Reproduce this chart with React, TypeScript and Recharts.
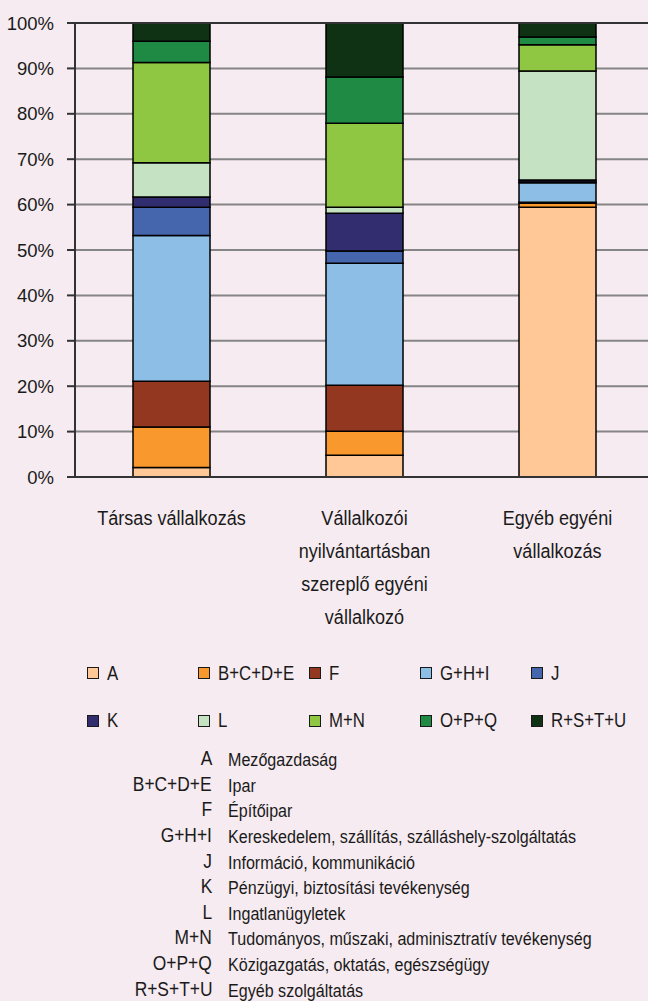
import { Bar, BarChart, CartesianGrid, ReferenceLine, XAxis, YAxis } from "recharts";

const FONT = "'Liberation Sans', Arial, sans-serif";
const BG = "#f6ebf0";

// kategóriák (x tengely), sortörésekkel
const categories = ["Társas vállalkozás", "Vállalkozói nyilvántartásban szereplő egyéni vállalkozó", "Egyéb egyéni vállalkozás"];
const categoryLines = [
  ["Társas vállalkozás"],
  ["Vállalkozói", "nyilvántartásban", "szereplő egyéni", "vállalkozó"],
  ["Egyéb egyéni", "vállalkozás"],
];

// ágazatok
const codes = ["A", "B+C+D+E", "F", "G+H+I", "J", "K", "L", "M+N", "O+P+Q", "R+S+T+U"];
const names = [
  "Mezőgazdaság",
  "Ipar",
  "Építőipar",
  "Kereskedelem, szállítás, szálláshely-szolgáltatás",
  "Információ, kommunikáció",
  "Pénzügyi, biztosítási tevékenység",
  "Ingatlanügyletek",
  "Tudományos, műszaki, adminisztratív tevékenység",
  "Közigazgatás, oktatás, egészségügy",
  "Egyéb szolgáltatás",
];
const colors = ["#ffc896", "#f8982d", "#943720", "#8dbfe6", "#4565ad", "#322d6f", "#c5e3c3", "#8fc742", "#1f8a44", "#0e3213"];

// megoszlás, % (kategóriánként, ágazatok sorrendjében)
const tarsas = [2.1, 8.9, 10.1, 32.1, 6.2, 2.3, 7.5, 22.1, 4.7, 4.0];
const nyilvantartott = [4.8, 5.3, 10.1, 26.9, 2.7, 8.3, 1.3, 18.5, 10.2, 11.9];
const egyeb = [59.4, 0.9, 0.2, 4.3, 0.2, 0.4, 24.0, 5.8, 1.7, 3.1];

const yTicks = [0, 10, 20, 30, 40, 50, 60, 70, 80, 90, 100];
const edgeTicks = [0, 1, 2, 3];

const series = [tarsas, nyilvantartott, egyeb];
const data = categories.map((c, i) => {
  const row: Record<string, number | string> = { cat: c };
  codes.forEach((k, j) => (row[k] = series[i][j]));
  return row;
});

function CatTick(props: any) {
  const { x, y, index } = props;
  const lines = categoryLines[index] ?? [];
  return (
    <text
      x={x}
      y={y}
      textAnchor="middle"
      fill="#1a1a1a"
      fontSize={21}
      fontFamily={FONT}
      transform={`translate(${x} 0) scale(0.86 1) translate(${-x} 0)`}
    >
      {lines.map((l, i) => (
        <tspan key={i} x={x} y={y + 40 + i * 33}>
          {l}
        </tspan>
      ))}
    </text>
  );
}

const narrow = (s: number, origin: string) => ({ display: "inline-block", transform: `scaleX(${s})`, transformOrigin: origin });

export default function App() {
  return (
    <div style={{ position: "fixed", left: 0, top: 0, width: 648, height: 1001, overflow: "hidden", background: BG, color: "#1a1a1a", fontFamily: FONT }}>
      <BarChart width={660} height={640} data={data} margin={{ top: 23, right: 6, left: 0, bottom: 0 }} barSize={77}>
        <CartesianGrid horizontal vertical={false} stroke="#858585" strokeWidth={2} />
        {/* 0-s azonosító: ez kerül közvetlenül a rajzterület alá, a kategóriahatárokon osztásokkal */}
        <XAxis
          xAxisId={0}
          type="number"
          domain={[0, 3]}
          ticks={edgeTicks}
          tick={false}
          tickSize={8}
          tickLine={{ stroke: "#333", strokeWidth: 2 }}
          axisLine={{ stroke: "#333", strokeWidth: 2 }}
          allowDataOverflow
          height={8}
        />
        <XAxis xAxisId="cat" dataKey="cat" tick={<CatTick />} tickLine={false} tickSize={0} tickMargin={0} axisLine={false} interval={0} height={155} />
        <YAxis
          type="number"
          domain={[0, 100]}
          ticks={yTicks}
          tickFormatter={(v) => `${v}%`}
          width={75}
          tickSize={8}
          tickMargin={13}
          tick={{ fill: "#1a1a1a", fontSize: 18.5, fontFamily: FONT }}
          tickLine={{ stroke: "#333", strokeWidth: 2 }}
          axisLine={{ stroke: "#333", strokeWidth: 2 }}
          interval={0}
        />
        <ReferenceLine y={100} stroke="#333" strokeWidth={2} />
        {codes.map((k, i) => (
          <Bar key={k} xAxisId="cat" dataKey={k} stackId="s" fill={colors[i]} stroke="#000" strokeWidth={1.5} isAnimationActive={false} />
        ))}
      </BarChart>

      <div style={{ position: "absolute", left: 0, top: 660, width: 648, height: 80, fontSize: 20 }}>
        {codes.map((k, i) => (
          <div
            key={k}
            style={{ position: "absolute", left: 87 + (i % 5) * 111, top: Math.floor(i / 5) * 47.5, height: 26, display: "flex", alignItems: "center", whiteSpace: "nowrap" }}
          >
            <span style={{ width: 10, height: 10, background: colors[i], border: "1.5px solid #1a1a1a", marginRight: 8 }} />
            <span style={narrow(0.84, "left")}>{k}</span>
          </div>
        ))}
      </div>

      <div style={{ position: "absolute", left: 0, top: 748, width: 648 }}>
        {codes.map((k, i) => (
          <div key={k} style={{ display: "flex", height: 25.6, alignItems: "center", whiteSpace: "nowrap" }}>
            <span style={{ width: 212, textAlign: "right", fontSize: 20, position: "relative", top: -2 }}>
              <span style={narrow(0.87, "right")}>{k}</span>
            </span>
            <span style={{ marginLeft: 16, fontSize: 17.5 }}>
              <span style={narrow(0.92, "left")}>{names[i]}</span>
            </span>
          </div>
        ))}
      </div>
    </div>
  );
}
